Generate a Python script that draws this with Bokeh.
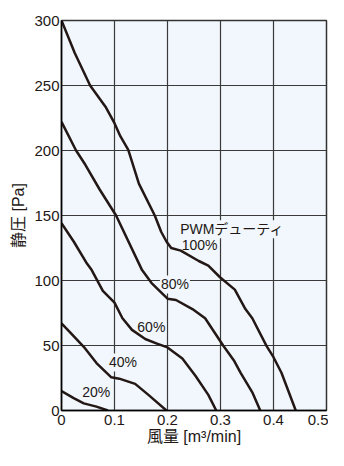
from bokeh.plotting import figure
from bokeh.models import ColumnDataSource, FixedTicker, Range1d
from bokeh.core.properties import value
from bokeh.embed import file_html
from bokeh.resources import INLINE

# ---- data ----
flow_100 = [0, 0.025, 0.054, 0.084, 0.1, 0.111, 0.126, 0.146, 0.176, 0.188, 0.198, 0.207,
            0.225, 0.259, 0.277, 0.299, 0.327, 0.347, 0.36, 0.387, 0.40, 0.415, 0.442]
pa_100 = [300, 275, 250, 233, 221, 211, 200.5, 174.5, 150, 137.5, 130, 125,
          123, 115, 111.5, 102.5, 93, 78, 71, 49.5, 41, 29, 0]

flow_80 = [0, 0.0275, 0.045, 0.072, 0.103, 0.152, 0.17, 0.2, 0.216, 0.247, 0.271, 0.305,
           0.326, 0.338, 0.36, 0.375]
pa_80 = [222, 200, 189, 170, 150, 108, 98, 86, 85, 78, 71, 50, 38, 29, 14, 0]

flow_60 = [0, 0.023, 0.048, 0.057, 0.078, 0.1, 0.115, 0.133, 0.158, 0.18, 0.2, 0.228,
           0.253, 0.277, 0.292]
pa_60 = [144, 130, 113, 108, 92, 83, 71, 62, 55, 51.5, 48.5, 40, 26.5, 12, 0]

flow_40 = [0, 0.014, 0.042, 0.066, 0.094, 0.109, 0.139, 0.164, 0.198]
pa_40 = [67, 61, 49, 36.5, 25.5, 24.5, 20.5, 12, 0]

flow_20 = [0, 0.023, 0.042, 0.066, 0.0875]
pa_20 = [15, 9.5, 5.5, 3, 0]

x_ticks = [0, 0.1, 0.2, 0.3, 0.4, 0.5]
x_tick_labels = ["0", "0.1", "0.2", "0.3", "0.4", "0.5"]
y_ticks = [0, 50, 100, 150, 200, 250, 300]
y_tick_labels = ["0", "50", "100", "150", "200", "250", "300"]

duty_labels = ["20%", "40%", "60%", "80%"]
duty_label_x = [0.0655, 0.116, 0.1695, 0.214]
duty_label_y = [14, 37, 64, 97]

title_labels = ["PWMデューティ", "100%"]
title_label_x = [0.222, 0.225]
title_label_y = [139.5, 127]

x_label = "風量 [m³/min]"
y_label = "静圧 [Pa]"

# ---- styles ----
BG = "#f1f7fc"
CURVE = "#231815"
LATIN = "Liberation Sans, Noto Sans CJK JP"

p = figure(frame_width=265, frame_height=390, output_backend="svg", toolbar_location=None,
           x_range=Range1d(0, 0.5), y_range=Range1d(0, 300),
           min_border_left=61, min_border_right=2, min_border_top=20, min_border_bottom=10)

p.background_fill_color = BG
p.border_fill_color = "white"
p.outline_line_color = "#333333"
p.outline_line_width = 1.5

for g in (p.xgrid, p.ygrid):
    g.grid_line_color = "#3a3a3a"
    g.grid_line_width = 1.2

p.xaxis.ticker = FixedTicker(ticks=x_ticks)
p.yaxis.ticker = FixedTicker(ticks=y_ticks)
p.xaxis.major_label_overrides = {t: l for t, l in zip(x_ticks, x_tick_labels)}
p.yaxis.major_label_overrides = {t: l for t, l in zip(y_ticks, y_tick_labels)}

for ax in (p.xaxis[0], p.yaxis[0]):
    ax.axis_line_color = "black"
    ax.axis_line_width = 1.5
    ax.major_tick_line_color = None
    ax.minor_tick_line_color = None
    ax.major_tick_out = 0
    ax.major_tick_in = 0
    ax.minor_tick_out = 0
    ax.minor_tick_in = 0
    ax.major_label_text_font = LATIN
    ax.major_label_text_font_size = "15px"
    ax.major_label_text_color = "#231815"
    ax.axis_label_text_font = LATIN
    ax.axis_label_text_font_size = "16px"
    ax.axis_label_text_font_style = "normal"
    ax.axis_label_text_color = "#231815"

p.xaxis.major_label_standoff = 4
p.xaxis.axis_label_standoff = 0
p.yaxis.major_label_standoff = 2
p.yaxis.axis_label_standoff = 4
p.xaxis.axis_label = x_label
p.yaxis.axis_label = y_label

# labels first, so the curves are drawn over their backgrounds
src_duty = ColumnDataSource(dict(x=duty_label_x, y=duty_label_y, text=duty_labels))
p.text(x="x", y="y", text="text", source=src_duty,
       text_font=value(LATIN), text_font_size="14px", text_color="#231815",
       text_align="center", text_baseline="middle",
       background_fill_color=BG, padding=1)

src_title = ColumnDataSource(dict(x=title_label_x, y=title_label_y, text=title_labels))
p.text(x="x", y="y", text="text", source=src_title,
       text_font=value(LATIN), text_font_size="14px", text_color="#231815",
       text_align="left", text_baseline="middle",
       background_fill_color=BG, padding=1)

for fx, py in ((flow_100, pa_100), (flow_80, pa_80), (flow_60, pa_60),
               (flow_40, pa_40), (flow_20, pa_20)):
    src = ColumnDataSource(dict(x=fx, y=py))
    p.line(x="x", y="y", source=src, line_color=CURVE, line_width=2.5, line_join="round")

open("out.html", "w").write(file_html(p, INLINE))
